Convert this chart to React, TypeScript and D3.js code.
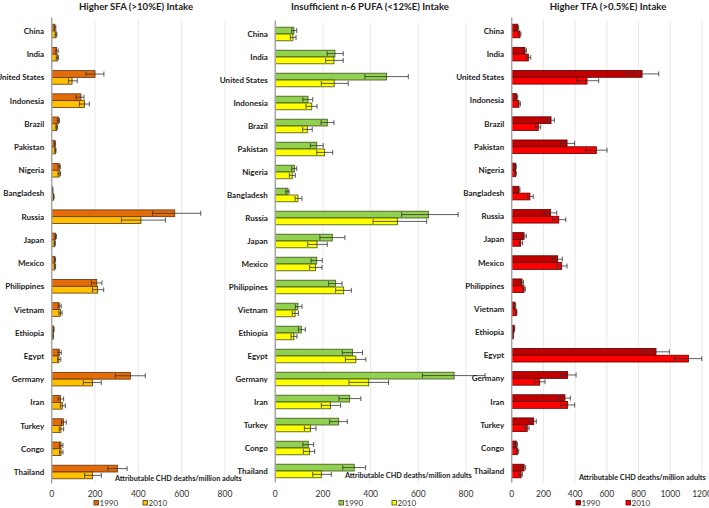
import React from 'react';
import * as d3 from 'd3';

// [value, lower, upper] per country, attributable CHD deaths / million adults
const countries = ['China', 'India', 'United States', 'Indonesia', 'Brazil', 'Pakistan', 'Nigeria', 'Bangladesh', 'Russia', 'Japan',
  'Mexico', 'Philippines', 'Vietnam', 'Ethiopia', 'Egypt', 'Germany', 'Iran', 'Turkey', 'Congo', 'Thailand'];

const sfa1990 = [[15, 12, 19], [23, 19, 30], [200, 158, 241], [135, 112, 149], [31, 26, 36], [15, 12, 18], [35, 29, 40], [4, 3, 6],
  [568, 466, 688], [18, 15, 22], [15, 13, 18], [208, 183, 232], [35, 30, 44], [9, 7, 11], [35, 29, 44], [363, 294, 432],
  [41, 30, 55], [54, 45, 67], [43, 36, 52], [303, 259, 348]];
const sfa2010 = [[20, 16, 24], [26, 21, 31], [94, 77, 118], [151, 128, 174], [23, 19, 27], [17, 14, 20], [35, 29, 41], [9, 7, 11],
  [412, 322, 525], [14, 11, 17], [15, 12, 18], [212, 188, 240], [40, 33, 48], [6, 5, 8], [33, 27, 42], [188, 146, 229],
  [49, 40, 63], [43, 35, 55], [43, 36, 52], [188, 152, 229]];

const pufa1990 = [[78, 69, 90], [250, 218, 285], [467, 376, 558], [137, 116, 157], [218, 192, 246], [174, 147, 201], [80, 69, 90],
  [53, 44, 58], [642, 530, 767], [239, 187, 292], [174, 150, 197], [252, 224, 280], [95, 84, 112], [109, 97, 126],
  [324, 281, 366], [750, 617, 880], [312, 267, 359], [266, 228, 302], [138, 116, 161], [331, 283, 379]];
const pufa2010 = [[74, 63, 87], [246, 211, 285], [247, 193, 306], [153, 129, 175], [134, 115, 155], [207, 174, 241], [71, 59, 84],
  [95, 83, 112], [512, 410, 635], [175, 136, 218], [169, 144, 196], [287, 253, 319], [83, 71, 97], [78, 66, 91],
  [338, 294, 380], [392, 309, 475], [232, 193, 274], [148, 122, 171], [143, 118, 165], [193, 157, 235]];

const tfa1990 = [[38, 33, 44], [84, 75, 93], [822, 725, 927], [32, 27, 38], [248, 227, 269], [349, 307, 397], [25, 21, 29],
  [46, 40, 52], [244, 204, 284], [78, 66, 92], [290, 259, 319], [65, 57, 74], [21, 18, 25], [16, 13, 19],
  [910, 826, 994], [353, 307, 406], [336, 298, 370], [139, 116, 155], [29, 24, 36], [78, 63, 88]];
const tfa2010 = [[52, 45, 58], [105, 93, 120], [475, 410, 549], [46, 40, 55], [168, 151, 183], [534, 467, 601], [25, 21, 29],
  [115, 101, 136], [297, 256, 341], [57, 48, 69], [315, 282, 349], [78, 70, 86], [29, 25, 33], [10, 8, 12],
  [1114, 1028, 1199], [177, 143, 210], [353, 309, 397], [98, 80, 109], [36, 30, 44], [59, 46, 67]];

const years = ['1990', '2010'];
const ticksSmall = [0, 200, 400, 600, 800];
const ticksLarge = [0, 200, 400, 600, 800, 1000, 1200];
const axisTitle = 'Attributable CHD deaths/million adults';

const FONT = 'Lato, "Open Sans", sans-serif';

const panels = [
  {
    title: 'Higher SFA (>10%E) Intake', titleX: 136, s1990: sfa1990, s2010: sfa2010, max: 800, ticks: ticksSmall,
    x0: 51.7, x1: 225, y0: 19.4, y1: 483.6, colors: ['#E36C09', '#FFC000'], stroke: '#5c3410',
    axisTitleX: 115, axisTitleY: 481, legendX: [94, 143],
  },
  {
    title: 'Insufficient n-6 PUFA (<12%E) Intake', titleX: 370, s1990: pufa1990, s2010: pufa2010, max: 800, ticks: ticksSmall,
    x0: 275.3, x1: 466, y0: 22.5, y1: 482.5, colors: ['#92D050', '#FFFF00'], stroke: '#3f4f1c',
    axisTitleX: 345, axisTitleY: 478, legendX: [339, 392],
  },
  {
    title: 'Higher TFA (>0.5%E) Intake', titleX: 608, s1990: tfa1990, s2010: tfa2010, max: 1200, ticks: ticksLarge,
    x0: 511.7, x1: 702, y0: 19.4, y1: 482.6, colors: ['#C00000', '#FF0000'], stroke: '#5a0000',
    axisTitleX: 579, axisTitleY: 480, legendX: [576, 626],
  },
];

const Panel = ({ p }: { p: any }) => {
  const x = d3.scaleLinear().domain([0, p.max]).range([p.x0, p.x1]);
  const y = d3.scaleBand().domain(countries).range([p.y0, p.y1]);
  const barH = 6.8;
  const series = [p.s1990, p.s2010];
  return (
    <g>
      {p.ticks.filter((t: number) => t > 0).map((t: number) => (
        <line key={'g' + t} x1={x(t)} x2={x(t)} y1={p.y0} y2={p.y1} stroke="#e3e3e3" strokeWidth={0.8} />
      ))}
      <text x={p.titleX} y={10} textAnchor="middle" fontFamily={FONT} fontWeight="bold" fontSize={9.6} fill="#222">{p.title}</text>
      {countries.map((c, i) => {
        const cy = (y(c) as number) + y.bandwidth() / 2;
        return (
          <g key={c}>
            <text x={p.x0 - 7.5} y={cy + 3} textAnchor="end" fontFamily={FONT} fontWeight="bold" fontSize={8} fill="#222">{c}</text>
            {series.map((s: number[][], k: number) => {
              const [v, lo, hi] = s[i];
              const top = cy - barH + k * barH;
              const mid = top + barH / 2;
              return (
                <g key={k}>
                  <rect x={x(0)} y={top} width={x(v) - x(0)} height={barH} fill={p.colors[k]} stroke={p.stroke} strokeWidth={0.8} />
                  <line x1={x(lo)} x2={x(hi)} y1={mid} y2={mid} stroke="#333" strokeWidth={0.8} />
                  <line x1={x(lo)} x2={x(lo)} y1={mid - 2.5} y2={mid + 2.5} stroke="#333" strokeWidth={0.8} />
                  <line x1={x(hi)} x2={x(hi)} y1={mid - 2.5} y2={mid + 2.5} stroke="#333" strokeWidth={0.8} />
                </g>
              );
            })}
          </g>
        );
      })}
      <line x1={x(0)} x2={x(0)} y1={p.y0 - 2} y2={p.y1} stroke="#a6a6a6" strokeWidth={1.5} />
      {p.ticks.map((t: number) => (
        <text key={'t' + t} x={x(t)} y={497} textAnchor="middle" fontFamily={FONT} fontSize={8.5} fill="#333">{t}</text>
      ))}
      <text x={p.axisTitleX} y={p.axisTitleY} fontFamily={FONT} fontWeight="bold" fontSize={7.3} fill="#222">{axisTitle}</text>
      {years.map((yr, k) => (
        <g key={yr}>
          <rect x={p.legendX[k]} y={500.5} width={4.5} height={4.5} fill={p.colors[k]} stroke={p.stroke} strokeWidth={0.8} />
          <text x={p.legendX[k] + 5.5} y={506} fontFamily={FONT} fontSize={8} fill="#333">{yr}</text>
        </g>
      ))}
    </g>
  );
};

export default function App() {
  return (
    <div style={{ position: 'absolute', left: 0, top: 0 }}>
      <svg width={709} height={508} style={{ display: 'block', background: '#fff' }}>
        {panels.map((p, i) => <Panel key={i} p={p} />)}
      </svg>
    </div>
  );
}
